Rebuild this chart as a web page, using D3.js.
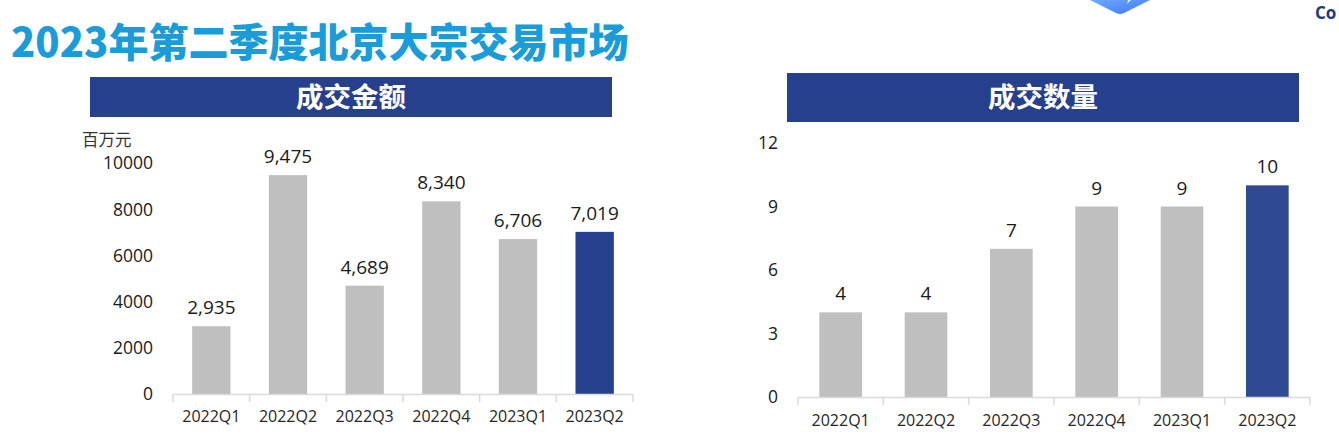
<!DOCTYPE html>
<html>
<head>
<meta charset="utf-8">
<script src="https://cdn.jsdelivr.net/npm/d3@7"></script>
<style>
  body { margin: 0; background: #fff; }
  svg { display: block; }
</style>
</head>
<body>
<div id="chart"></div>
<script>
const categories = ["2022Q1", "2022Q2", "2022Q3", "2022Q4", "2023Q1", "2023Q2"];
const amountValues = [2935, 9475, 4689, 8340, 6706, 7019];
const countValues = [4, 4, 7, 9, 9, 10];
const amountTicks = [0, 2000, 4000, 6000, 8000, 10000];
const countTicks = [0, 3, 6, 9, 12];

const W = 1339, H = 445;
const GRAY = "#BFBFBF", NAVY = "#26408E";
const NUM_FONT = "'Open Sans', 'Noto Sans', sans-serif";
const CJK_FONT = "'Noto Sans CJK SC', sans-serif";

const svg = d3.select("#chart").append("svg")
  .attr("width", W)
  .attr("height", H);

// logo fragment in the top right corner
const defs = svg.append("defs");
const grad = defs.append("linearGradient")
  .attr("id", "logoGrad").attr("x1", 0).attr("y1", 0).attr("x2", 1).attr("y2", 1);
grad.append("stop").attr("offset", "0%").attr("stop-color", "#6FA8FF");
grad.append("stop").attr("offset", "100%").attr("stop-color", "#3B7BEF");
svg.append("path")
  .attr("d", "M1090,0 L1150,0 L1124,13 Q1120,15 1116,13 Z")
  .attr("fill", "url(#logoGrad)");
svg.append("path")
  .attr("d", "M1128,0 L1131,0 L1127,4 Z")
  .attr("fill", "#dfeaff");
svg.append("text")
  .attr("x", 1315).attr("y", 19)
  .attr("font-family", NUM_FONT).attr("font-weight", 700)
  .attr("font-size", 17).attr("fill", "#233A7B")
  .text("Co");

// page title
svg.append("text")
  .attr("x", 11).attr("y", 57)
  .attr("font-family", CJK_FONT).attr("font-weight", 900)
  .attr("font-size", 40).attr("fill", "#1A9CD8")
  .text("2023年第二季度北京大宗交易市场");

function drawPanel(opt) {
  const g = svg.append("g");

  // header bar
  g.append("rect")
    .attr("x", opt.header[0]).attr("y", opt.header[1])
    .attr("width", opt.header[2]).attr("height", opt.header[3])
    .attr("fill", NAVY);
  g.append("text")
    .attr("x", opt.header[0] + opt.header[2] / 2)
    .attr("y", opt.header[1] + opt.header[3] / 2)
    .attr("dy", "0.36em")
    .attr("text-anchor", "middle")
    .attr("font-family", CJK_FONT).attr("font-weight", 700)
    .attr("font-size", 27.5).attr("fill", "#fff")
    .text(opt.title);

  const x = d3.scaleBand()
    .domain(categories)
    .range(opt.xRange)
    .paddingInner(0.5)
    .paddingOuter(0.25);

  const y = d3.scaleLinear()
    .domain(opt.yDomain)
    .range(opt.yRange);

  // y tick labels (no axis line)
  g.selectAll(".ytick")
    .data(opt.ticks)
    .enter().append("text")
      .attr("x", opt.yLabelX)
      .attr("y", d => y(d))
      .attr("dy", "0.36em")
      .attr("text-anchor", "end")
      .attr("font-family", NUM_FONT)
      .attr("font-size", 17.5)
      .attr("fill", "#1a1a1a")
      .text(d => d);

  // bars
  g.selectAll(".bar")
    .data(opt.values)
    .enter().append("rect")
      .attr("x", (d, i) => x(categories[i]))
      .attr("y", d => y(d))
      .attr("width", x.bandwidth())
      .attr("height", d => y(0) - y(d))
      .attr("fill", (d, i) => i === categories.length - 1 ? opt.lastColor : GRAY);

  // value labels
  g.selectAll(".val")
    .data(opt.values)
    .enter().append("text")
      .attr("x", (d, i) => x(categories[i]) + x.bandwidth() / 2)
      .attr("y", d => y(d) - 12)
      .attr("text-anchor", "middle")
      .attr("font-family", NUM_FONT)
      .attr("font-size", 19)
      .attr("fill", "#1a1a1a")
      .text(d => d3.format(",")(d));

  // category axis with separator ticks
  const y0 = y(0);
  g.append("line")
    .attr("x1", opt.xRange[0]).attr("x2", opt.xRange[1])
    .attr("y1", y0 + 0.5).attr("y2", y0 + 0.5)
    .attr("stroke", "#D9D9D9").attr("stroke-width", 1.5);
  g.selectAll(".sep")
    .data(d3.range(categories.length + 1))
    .enter().append("line")
      .attr("x1", i => opt.xRange[0] + i * x.step())
      .attr("x2", i => opt.xRange[0] + i * x.step())
      .attr("y1", y0).attr("y2", y0 + 8)
      .attr("stroke", "#D9D9D9").attr("stroke-width", 1.5);
  g.selectAll(".xlab")
    .data(categories)
    .enter().append("text")
      .attr("x", d => x(d) + x.bandwidth() / 2)
      .attr("y", y0 + opt.xLabelOffset)
      .attr("dy", "0.36em")
      .attr("text-anchor", "middle")
      .attr("font-family", NUM_FONT)
      .attr("font-size", 16)
      .attr("fill", "#262626")
      .text(d => d);

  return g;
}

const left = drawPanel({
  title: "成交金额",
  header: [90, 77, 522, 40],
  xRange: [173, 633],
  yDomain: [0, 10000],
  yRange: [394, 163],
  ticks: amountTicks,
  yLabelX: 153,
  values: amountValues,
  lastColor: "#26408E",
  xLabelOffset: 22
});

left.append("text")
  .attr("x", 82).attr("y", 140)
  .attr("dy", "0.36em")
  .attr("font-family", CJK_FONT)
  .attr("font-size", 16.5)
  .attr("fill", "#333")
  .text("百万元");

drawPanel({
  title: "成交数量",
  header: [787, 73, 512, 49],
  xRange: [798, 1310],
  yDomain: [0, 12],
  yRange: [397, 143],
  ticks: countTicks,
  yLabelX: 778,
  values: countValues,
  lastColor: "#2F4A93",
  xLabelOffset: 23
});
</script>
</body>
</html>
